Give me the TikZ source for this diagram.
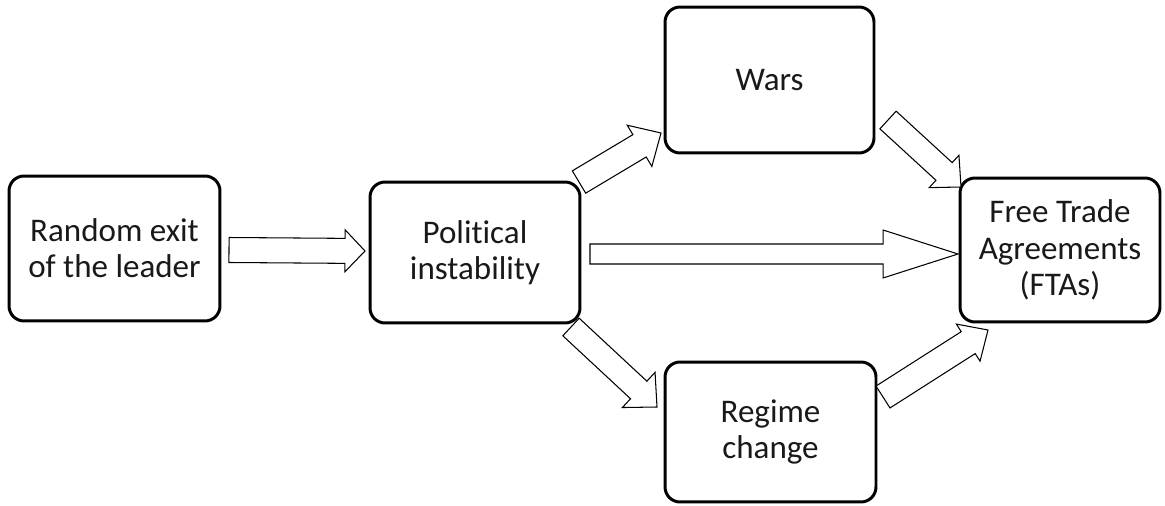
\documentclass[tikz,border=0pt]{standalone}
\usepackage{fontspec}
\setmainfont[Ligatures=NoCommon]{Carlito}
\usetikzlibrary{positioning, calc}

% block arrow: tail, tip, half shaft, half head, head length
\newcommand{\blockarrow}[5]{%
    \coordinate (hb) at ($(#2)!#5!(#1)$);
    \draw[blockarr] ($(#1)!#3!90:(#2)$) -- ($(hb)!#3!-90:(#1)$) -- ($(hb)!#4!-90:(#1)$) -- (#2)
        -- ($(hb)!#4!90:(#1)$) -- ($(hb)!#3!90:(#1)$) -- ($(#1)!#3!-90:(#2)$) -- cycle;
}

\begin{document}
\begin{tikzpicture}[
    x=0.02cm, y=-0.02cm,
    box/.style={draw, line width=1.7pt, rectangle, rounded corners=0.3cm, align=center, fill=white,
        font=\fontsize{18.8}{20.6}\selectfont, text=black!90, inner sep=0pt},
    blockarr/.style={draw, line width=0.6pt, fill=white, line join=miter}
]
    \useasboundingbox (0,0) rectangle (1165,506);

    % --- Boxes ---
    \node[box, minimum width=4.22cm, minimum height=2.9cm] (exit) at (114.5,248.5) {Random exit\\of the leader};
    \node[box, minimum width=4.2cm, minimum height=2.82cm] (instab) at (475,252.5) {Political\\instability};
    \node[box, minimum width=4.18cm, minimum height=2.92cm] (wars) at (769.5,80) {Wars};
    \node[box, minimum width=4.22cm, minimum height=2.8cm] (regime) at (770.5,432) {Regime\\change};
    \node[box, minimum width=4.0cm, minimum height=2.88cm] (fta) at (1060,250) {Free Trade\\Agreements\\(FTAs)};

    % --- Arrow ends ---
    \coordinate (a1) at (229,250);  \coordinate (b1) at (365,251);
    \coordinate (a2) at (590,254);  \coordinate (b2) at (958,254);
    \coordinate (a3) at (579,182);  \coordinate (b3) at (661,133);
    \coordinate (a4) at (888,120);  \coordinate (b4) at (961,187);
    \coordinate (a5) at (571,327);  \coordinate (b5) at (657,407);
    \coordinate (a6) at (883,397);  \coordinate (b6) at (988,330);

    % --- Block arrows ---
    \blockarrow{a1}{b1}{0.25cm}{0.42cm}{0.4cm}
    \blockarrow{a2}{b2}{0.2cm}{0.48cm}{1.5cm}
    \blockarrow{a3}{b3}{0.26cm}{0.48cm}{0.5cm}
    \blockarrow{a4}{b4}{0.24cm}{0.44cm}{0.46cm}
    \blockarrow{a5}{b5}{0.24cm}{0.48cm}{0.5cm}
    \blockarrow{a6}{b6}{0.26cm}{0.44cm}{0.47cm}

\end{tikzpicture}
\end{document}
